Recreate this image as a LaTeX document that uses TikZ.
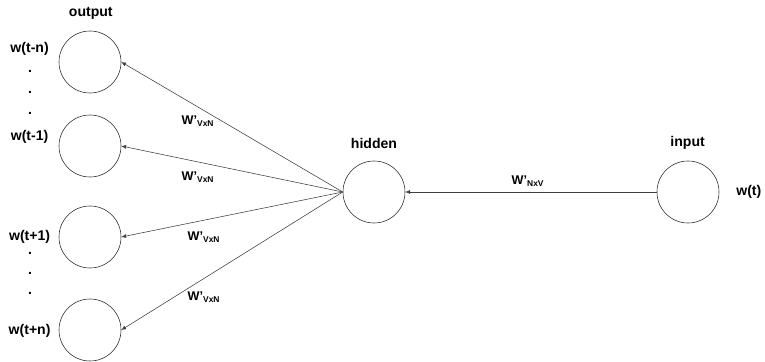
\documentclass[tikz,border=0pt]{standalone}
\usepackage{fontspec}
\setmainfont{Liberation Sans}
\usetikzlibrary{arrows.meta,positioning}

\begin{document}
\begin{tikzpicture}[font=\bfseries\normalsize, node distance=0]
    \tikzset{
      unit/.style={circle,draw=black!85,thin,minimum size=1.55cm,inner sep=0pt},
      wire/.style={draw=black!75,thin,-{Latex[length=1.2mm,width=1mm]}},
      wlbl/.style={font=\bfseries\small,inner sep=1pt}
    }
    \useasboundingbox (0,0) rectangle (19.125,9.025);

    % output layer
    \node[unit] (out1) at (2.25,7.475) {};
    \node[unit] (out2) at (2.25,5.375) {};
    \node[unit] (out3) at (2.25,3.1) {};
    \node[unit] (out4) at (2.25,0.775) {};
    \node (lblout) at (2.27,8.7) {output};

    \node (wtn) at (0.74,7.8) {w(t-n)};
    \node (dota) at (0.75,7.25) {.};
    \node (dotb) at (0.75,6.72) {.};
    \node (dotc) at (0.75,6.2) {.};
    \node (wt1) at (0.74,5.6) {w(t-1)};
    \node (wtp1) at (0.74,3.1) {w(t+1)};
    \node (dotd) at (0.75,2.7) {.};
    \node (dote) at (0.75,2.2) {.};
    \node (dotf) at (0.75,1.7) {.};
    \node (wtpn) at (0.74,0.75) {w(t+n)};

    % hidden and input
    \node[unit] (hid) at (9.35,4.225) {};
    \node (lblhid) at (9.35,5.45) {hidden};
    \node[unit] (inp) at (17.2,4.225) {};
    \node (lblinp) at (17.19,5.45) {input};
    \node (wt) at (18.72,4.225) {w(t)};

    % weights
    \draw[wire] (inp.west) -- (hid.east);
    \node[wlbl] (wnv) at (13.2,4.5) {W'\textsubscript{NxV}};
    \foreach \o in {1,2,3,4}
      \draw[wire] (hid.west) -- (out\o.east);
    \node[wlbl] (wvn1) at (4.95,6.0) {W'\textsubscript{VxN}};
    \node[wlbl] (wvn2) at (4.95,4.6) {W'\textsubscript{VxN}};
    \node[wlbl] (wvn3) at (5.1,3.1) {W'\textsubscript{VxN}};
    \node[wlbl] (wvn4) at (5.1,1.6) {W'\textsubscript{VxN}};
\end{tikzpicture}
\end{document}
